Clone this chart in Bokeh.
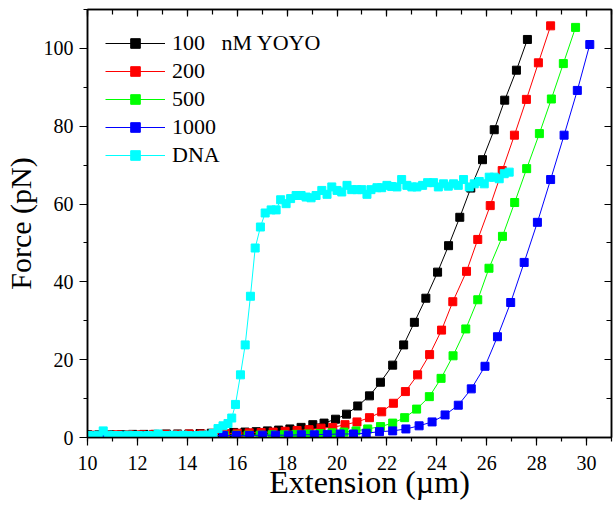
from bokeh.plotting import figure
from bokeh.models import (Range1d, LinearAxis, SingleIntervalTicker, Legend, LegendItem,
                          CustomJSTickFormatter)
from bokeh.embed import file_html
from bokeh.resources import INLINE

# ---------------- data ----------------
labels = ["100\u00a0\u00a0 nM YOYO", "200", "500", "1000", "DNA"]
colors = ["#000000", "#ff0000", "#00ff00", "#0000ff", "#00ffff"]

x_100 = [10.01, 10.46, 10.91, 11.36, 11.81, 12.26, 12.71, 13.16, 13.61, 14.06,
         14.51, 14.96, 15.41, 15.86, 16.31, 16.76, 17.21, 17.66, 18.11, 18.56,
         19.03, 19.48, 19.94, 20.38, 20.83, 21.30, 21.74, 22.23, 22.67, 23.10,
         23.56, 24.03, 24.47, 24.92, 25.36, 25.83, 26.30, 26.72, 27.19, 27.63]
y_100 = [0.7, 0.7, 0.7, 0.7, 0.8, 0.8, 0.8, 0.9, 0.9, 0.9,
         1.0, 1.1, 1.2, 1.3, 1.4, 1.5, 1.7, 1.9, 2.2, 2.6,
         3.3, 3.7, 4.7, 6.0, 8.1, 10.7, 14.2, 18.6, 23.8, 29.6,
         35.8, 42.5, 49.3, 56.6, 64.1, 71.4, 79.1, 86.7, 94.4, 102.3]

x_200 = [10.24, 10.72, 11.20, 11.68, 12.16, 12.64, 13.12, 13.60, 14.08, 14.56,
         15.04, 15.52, 16.00, 16.48, 16.96, 17.44, 17.92, 18.40, 18.88, 19.36,
         19.83, 20.32, 20.80, 21.30, 21.79, 22.26, 22.74, 23.23, 23.71, 24.19,
         24.64, 25.19, 25.64, 26.14, 26.62, 27.11, 27.59, 28.07, 28.56]
y_200 = [0.6, 0.7, 0.7, 0.7, 0.7, 0.8, 0.8, 0.8, 0.9, 0.9,
         1.0, 1.0, 1.1, 1.2, 1.3, 1.4, 1.6, 1.8, 2.0, 2.4,
         2.6, 3.3, 4.0, 5.1, 6.6, 8.8, 11.8, 16.1, 21.3, 27.6,
         34.9, 42.7, 50.9, 59.6, 68.6, 77.7, 86.9, 96.3, 105.8]

x_500 = [10.20, 10.68, 11.16, 11.64, 12.12, 12.60, 13.08, 13.56, 14.04, 14.52,
         15.00, 15.48, 15.96, 16.44, 16.92, 17.40, 17.88, 18.36, 18.84, 19.32,
         19.80, 20.28, 20.76, 21.23, 21.74, 22.23, 22.71, 23.19, 23.70, 24.17,
         24.65, 25.16, 25.64, 26.09, 26.63, 27.12, 27.60, 28.11, 28.59, 29.07, 29.56]
y_500 = [0.5, 0.5, 0.5, 0.5, 0.5, 0.5, 0.5, 0.5, 0.5, 0.5,
         0.5, 0.5, 0.6, 0.6, 0.6, 0.7, 0.7, 0.8, 0.9, 1.0,
         1.2, 1.4, 1.7, 2.2, 2.8, 3.7, 5.1, 7.3, 10.5, 15.2,
         21.0, 27.9, 35.4, 43.5, 51.7, 60.4, 69.1, 78.1, 87.0, 96.1, 105.4]

x_1000 = [10.25, 10.77, 11.29, 11.81, 12.33, 12.85, 13.37, 13.89, 14.41, 14.93,
          15.45, 15.97, 16.49, 17.01, 17.53, 18.05, 18.57, 19.09, 19.61, 20.13,
          20.66, 21.17, 21.70, 22.23, 22.76, 23.29, 23.81, 24.33, 24.86, 25.38,
          25.93, 26.43, 26.96, 27.50, 28.03, 28.56, 29.10, 29.63, 30.13]
y_1000 = [0.4, 0.4, 0.4, 0.4, 0.4, 0.4, 0.4, 0.4, 0.5, 0.5,
          0.5, 0.5, 0.5, 0.6, 0.6, 0.6, 0.7, 0.7, 0.8, 0.9,
          0.9, 1.1, 1.5, 1.7, 2.2, 3.0, 4.0, 5.8, 8.3, 12.5,
          18.3, 25.9, 34.7, 45.0, 55.3, 66.3, 77.7, 89.2, 101.0]

x_dna = [10.03, 10.23, 10.43, 10.63, 10.83, 11.03, 11.23, 11.43, 11.63, 11.83,
         12.03, 12.23, 12.43, 12.63, 12.83, 13.03, 13.23, 13.43, 13.63, 13.83,
         14.03, 14.23, 14.43, 14.63, 14.83, 15.03, 15.23, 15.43, 15.63,
         15.78, 15.93, 16.13, 16.32, 16.53, 16.72, 16.93,
         17.12, 17.36, 17.56, 17.74, 17.96, 18.14, 18.36, 18.56, 18.76, 18.96,
         19.16, 19.39, 19.60, 19.79, 20.00, 20.19, 20.40, 20.59, 20.80, 20.99,
         21.20, 21.36, 21.60, 21.79, 22.00, 22.19, 22.40, 22.59, 22.80, 23.00,
         23.20, 23.43, 23.63, 23.87, 24.06, 24.27, 24.46, 24.67, 24.86, 25.07,
         25.30, 25.50, 25.70, 25.90, 26.10, 26.30, 26.50, 26.70, 26.90]
y_dna = [0.5, 0.4, 0.6, 1.7, 0.6, 0.5, 0.5, 0.4, 0.6, 0.5,
         0.5, 0.4, 0.5, 0.4, 0.9, 0.5, 0.5, 0.6, 0.5, 0.6,
         0.5, 0.4, 0.5, 0.6, 0.6, 1.0, 2.3, 3.0, 3.6,
         5.0, 8.5, 16.1, 23.8, 36.3, 48.7, 54.1,
         57.7, 58.5, 58.5, 61.1, 60.1, 61.4, 62.2, 62.2, 61.8, 61.6,
         62.2, 63.5, 62.5, 64.4, 63.5, 63.1, 64.8, 63.7, 63.7, 63.7,
         62.5, 63.7, 64.2, 64.2, 64.8, 64.5, 64.4, 66.3, 64.8, 64.4,
         64.4, 64.8, 65.5, 65.5, 64.4, 65.2, 64.6, 65.2, 64.8, 66.3,
         64.4, 65.2, 65.8, 65.2, 66.9, 66.9, 66.5, 67.8, 68.2]

xs_all = [x_100, x_200, x_500, x_1000, x_dna]
ys_all = [y_100, y_200, y_500, y_1000, y_dna]

# ---------------- figure ----------------
FONT = "Liberation Serif"

p = figure(frame_width=524, frame_height=428,
           output_backend="svg", toolbar_location=None,
           x_range=Range1d(10, 31), y_range=Range1d(0, 110),
           x_axis_location=None, y_axis_location=None,
           min_border_left=81, min_border_right=2, min_border_top=9, min_border_bottom=71)
p.background_fill_color = "white"
p.border_fill_color = "white"
p.outline_line_color = "black"
p.outline_line_width = 1.5
p.xgrid.visible = False
p.ygrid.visible = False


def make_axis(kind, side):
    if kind == "x":
        ax = LinearAxis(ticker=SingleIntervalTicker(interval=2, num_minor_ticks=2))
    else:
        ax = LinearAxis(ticker=SingleIntervalTicker(interval=20, num_minor_ticks=2))
    ax.axis_line_color = "black"
    ax.axis_line_width = 1.5
    ax.major_tick_line_color = "black"
    ax.minor_tick_line_color = "black"
    ax.major_tick_line_width = 1.2
    ax.minor_tick_line_width = 1.2
    if side in ("below", "left"):
        ax.major_tick_out = 8
        ax.major_tick_in = 0
        ax.minor_tick_out = 4
        ax.minor_tick_in = 0
        ax.major_label_text_font = FONT
        ax.major_label_text_font_size = "20px"
        ax.major_label_text_color = "black"
        ax.axis_label_text_font = FONT
        ax.axis_label_text_font_style = "normal"
        ax.axis_label_text_color = "black"
        if side == "below":
            ax.axis_label_text_font_size = "32px"
            ax.major_label_standoff = 10
            ax.axis_label_standoff = -9
        else:
            ax.axis_label_text_font_size = "30px"
            ax.major_label_standoff = 6
            ax.axis_label_standoff = 4
    else:
        ax.major_tick_out = 0
        ax.major_tick_in = 7
        ax.minor_tick_out = 0
        ax.minor_tick_in = 5
        ax.formatter = CustomJSTickFormatter(code="return ''")
        ax.major_label_text_font_size = "1px"
        ax.major_label_standoff = 0
    return ax


xb = make_axis("x", "below")
# the reference places this title a little right of centre
xb.axis_label = "\u00a0" * 5 + "Extension (\u00b5m)"
yl = make_axis("y", "left")
yl.axis_label = "Force (pN)"
p.add_layout(xb, "below")
p.add_layout(yl, "left")
p.add_layout(make_axis("x", "above"), "above")
p.add_layout(make_axis("y", "right"), "right")

items = []
for lab, col, xs, ys in zip(labels, colors, xs_all, ys_all):
    rl = p.line(xs, ys, line_color=col, line_width=1)
    rs = p.scatter(xs, ys, marker="square", size=8, fill_color=col, line_color=col)
    items.append(LegendItem(label=lab, renderers=[rl, rs]))

legend = Legend(items=items, location=(18, 269))
legend.border_line_color = None
legend.background_fill_alpha = 0
legend.label_text_font = FONT
legend.label_text_font_size = "22px"
legend.label_text_color = "black"
legend.glyph_width = 60
legend.glyph_height = 24
legend.label_height = 24
legend.spacing = 2
legend.padding = 0
legend.margin = 0
legend.label_standoff = 7
p.add_layout(legend)

open("out.html", "w").write(file_html(p, INLINE))
